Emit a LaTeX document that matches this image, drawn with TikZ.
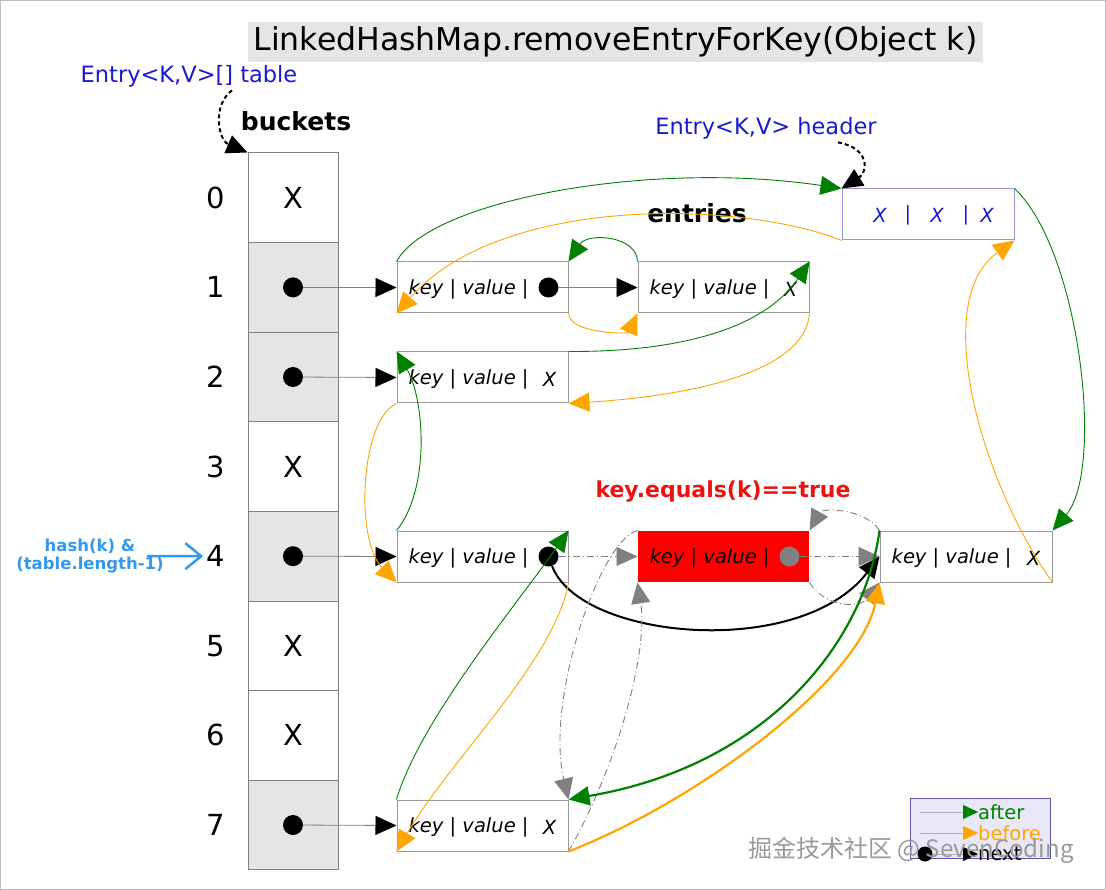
\documentclass[tikz,border=0pt]{standalone}
\usepackage{fontspec}
\setmainfont{DejaVu Sans}
\newfontfamily\cjkfont{Noto Sans CJK SC}
\usetikzlibrary{arrows.meta,positioning}
\newcommand{\fsz}[1]{\fontsize{#1}{#1}\selectfont}
\definecolor{aftclr}{RGB}{0,128,0}
\definecolor{befclr}{RGB}{255,165,0}
\definecolor{bktgray}{RGB}{229,229,229}
\definecolor{lblblue}{RGB}{26,26,204}
\definecolor{hashblue}{RGB}{51,153,238}
\definecolor{hdrline}{RGB}{150,150,220}
\definecolor{keyred}{RGB}{238,17,17}
\definecolor{legfill}{RGB}{232,232,248}

\begin{document}
\begin{tikzpicture}[x=1pt,y=-1pt,
	bucket/.style={draw=gray,line width=1pt,minimum width=90pt,minimum height=89.6pt,inner sep=0pt},
	entry/.style={draw=gray!80,line width=1pt,fill=white,minimum width=171pt,minimum height=51pt,inner sep=0pt},
	etext/.style={inner sep=0pt,font=\fsz{19.5}\itshape},
	blob/.style={circle,fill=black,minimum size=20pt,inner sep=0pt},
	arrowtip/.style={-{Triangle[length=21pt,width=19pt]}},
	ptr/.style={draw=gray,line width=0.8pt,-{Triangle[length=21pt,width=19pt,color=black]}},
	aftlink/.style={draw=aftclr,line width=0.9pt,arrowtip},
	beflink/.style={draw=befclr,line width=0.9pt,arrowtip},
	gone/.style={draw=gray,line width=0.9pt,dash pattern=on 7pt off 3pt on 1pt off 3pt,arrowtip},
	refdash/.style={draw=black,line width=2pt,dash pattern=on 4pt off 3pt,arrowtip}]
	\useasboundingbox (0,0) rectangle (1106,890);
	\draw[gray!50] (0.5,0.5) rectangle (1105.5,889.5);

	% title and labels
	\node[fill=bktgray,minimum width=735pt,minimum height=40pt,inner sep=0pt,font=\fsz{31.5}] (title) at (615.5,42) {LinkedHashMap.removeEntryForKey(Object k)};
	\node[font=\fsz{22.5},text=lblblue] (tbl) at (189,76) {Entry<K,V>[] table};
	\node[font=\fsz{25}\bfseries] (bkt) at (296,121) {buckets};
	\node[font=\fsz{22.5},text=lblblue] (hdrlbl) at (766,128) {Entry<K,V> header};
	\node[font=\fsz{25}\bfseries] (ent) at (697,213) {entries};
	\node[font=\fsz{22}\bfseries,text=keyred] (eq) at (723,492) {key.equals(k)==true};

	% buckets
	\foreach \i/\f in {0/white,1/bktgray,2/bktgray,3/white,4/bktgray,5/white,6/white,7/bktgray}
		{
		\node[bucket,fill=\f] (b\i) at (293,197.8+89.6*\i) {};
		\node[font=\fsz{29}] (i\i) at (216,197.8+89.6*\i) {\i};
		}
	\foreach \i in {0,3,5,6} \node[font=\fsz{29}] at (b\i) {X};
	\foreach \i in {1,2,4,7} \node[blob] (bd\i) at (b\i) {};

	\node[font=\fsz{16.5}\bfseries,text=hashblue,align=center,inner sep=0pt] (hash) at (90,556) {hash(k) \&\\[2pt](table.length-1)};
	\draw[hashblue,line width=2.5pt,-{Straight Barb[length=16pt,width=26pt]}] ([xshift=-17pt]hash.east) -- (i4.west);

	% entries
	\node[entry] (e1a) at (482.5,287.5) {};
	\node[entry,right=69pt of e1a] (e1b) {};
	\node[entry] (e2) at (482.5,377.5) {};
	\node[entry] (e4a) at (482.5,556.5) {};
	\node[entry,fill=red,draw=none,right=69pt of e4a] (e4b) {};
	\node[entry,right=70pt of e4b,minimum width=172pt] (e4c) {};
	\node[entry] (e7) at (482.5,825.5) {};
	\node[entry,draw=hdrline,minimum width=172pt] (hdr) at (928,214.5) {};

	\foreach \e in {e1a,e1b,e2,e4a,e4b,e4c,e7} \node[etext,anchor=west] at ([xshift=12pt,yshift=-1.5pt]\e.west) {key | value |};
	\foreach \e in {e1b,e2,e4c,e7} \node[etext] at ([xshift=-19pt,yshift=-1.5pt]\e.east) {X};
	\foreach \x/\t in {880/X,908/|,937/X,966/|,987/X} \node[etext,text=lblblue] at (\x,215) {\t};
	\node[blob] (d1a) at ([xshift=-20pt]e1a.east) {};
	\node[blob] (d4a) at ([xshift=-20pt]e4a.east) {};
	\node[blob,fill=gray] (d4b) at ([xshift=-20pt]e4b.east) {};

	% table and header references
	\draw[refdash] ([xshift=43pt]tbl.south) .. controls (212,105) and (218,140) .. (b0.north west);
	\draw[refdash] ([xshift=72pt]hdrlbl.south) .. controls (870,148) and (868,172) .. (hdr.north west);

	% next pointers
	\foreach \i/\e in {1/e1a,2/e2,4/e4a,7/e7} \draw[ptr] (bd\i) -- (\e.west);
	\draw[ptr] (d1a) -- (e1b.west);
	\draw[gone] (d4a) -- (e4b.west);
	\draw[gone] (d4b) -- (e4c.west);
	\draw[line width=2pt,arrowtip] (d4a) .. controls (580,640) and (800,660) .. (e4c.west);

	% after / before
	\draw[aftlink] (e1a.north west) .. controls (430,200) and (650,160) .. (hdr.north west);
	\draw[beflink] (hdr.south west) .. controls (740,200) and (500,195) .. (e1a.south west);
	\draw[aftlink] (e1b.north west) .. controls (637,236) and (588,232) .. (e1a.north east);
	\draw[beflink] (e1a.south east) .. controls (570,334) and (628,334) .. (e1b.south west);
	\draw[aftlink] (e2.north east) .. controls (700,352) and (770,320) .. (e1b.north east);
	\draw[beflink] (e1b.south east) .. controls (805,370) and (700,395) .. (e2.south east);
	\draw[aftlink] (e4a.north west) .. controls (430,490) and (425,400) .. (e2.north west);
	\draw[beflink] (e2.south west) .. controls (360,420) and (355,540) .. (e4a.south west);
	\draw[aftlink] (e7.north west) .. controls (420,720) and (520,600) .. (e4a.north east);
	\draw[beflink] (e4a.south east) .. controls (555,660) and (450,760) .. (e7.south west);
	\draw[aftlink] (hdr.north east) .. controls (1080,250) and (1105,470) .. (e4c.north east);
	\draw[beflink] (e4c.south east) .. controls (980,480) and (930,300) .. (hdr.south east);
	\draw[gone] (e4b.north west) .. controls (600,540) and (545,700) .. (e7.north east);
	\draw[gone] (e7.south east) .. controls (620,760) and (648,650) .. (e4b.south west);
	\draw[gone] (e4c.north west) .. controls (865,508) and (822,508) .. (e4b.north east);
	\draw[gone] (e4b.south east) .. controls (825,608) and (860,608) .. (e4c.south west);
	\draw[aftlink,line width=2.2pt] (e4c.north west) .. controls (865,640) and (770,765) .. (e7.north east);
	\draw[beflink,line width=2.2pt] (e7.south east) .. controls (700,800) and (860,680) .. (e4c.south west);

	% legend
	\node[draw=gray!70!blue,fill=legfill,minimum width=140pt,minimum height=60pt,inner sep=0pt] (leg) at (980,828) {};
	\foreach \t/\col/\yy in {after/aftclr/812,before/befclr/833}
		{
		\node[anchor=west,inner sep=0pt,text=\col,font=\fsz{19.5}] (l\t) at (978,\yy) {\t};
		\coordinate (s\t) at (920,\yy);
		\draw[gray!60,-{Triangle[length=15pt,width=14pt,color=\col]}] (s\t) -- (l\t.west);
		}
	\node[anchor=west,inner sep=0pt,font=\fsz{19.5}] (lnext) at (978,854) {next};
	\node[blob,minimum size=15pt] (ndot) at (925,854) {};
	\draw[gray!60,-{Triangle[length=15pt,width=14pt,color=black]}] (ndot) -- (lnext.west);

	\node[font=\cjkfont\fsz{24},text=gray!80] (wm) at (911,850) {掘金技术社区 @ SevenCoding};
\end{tikzpicture}
\end{document}
